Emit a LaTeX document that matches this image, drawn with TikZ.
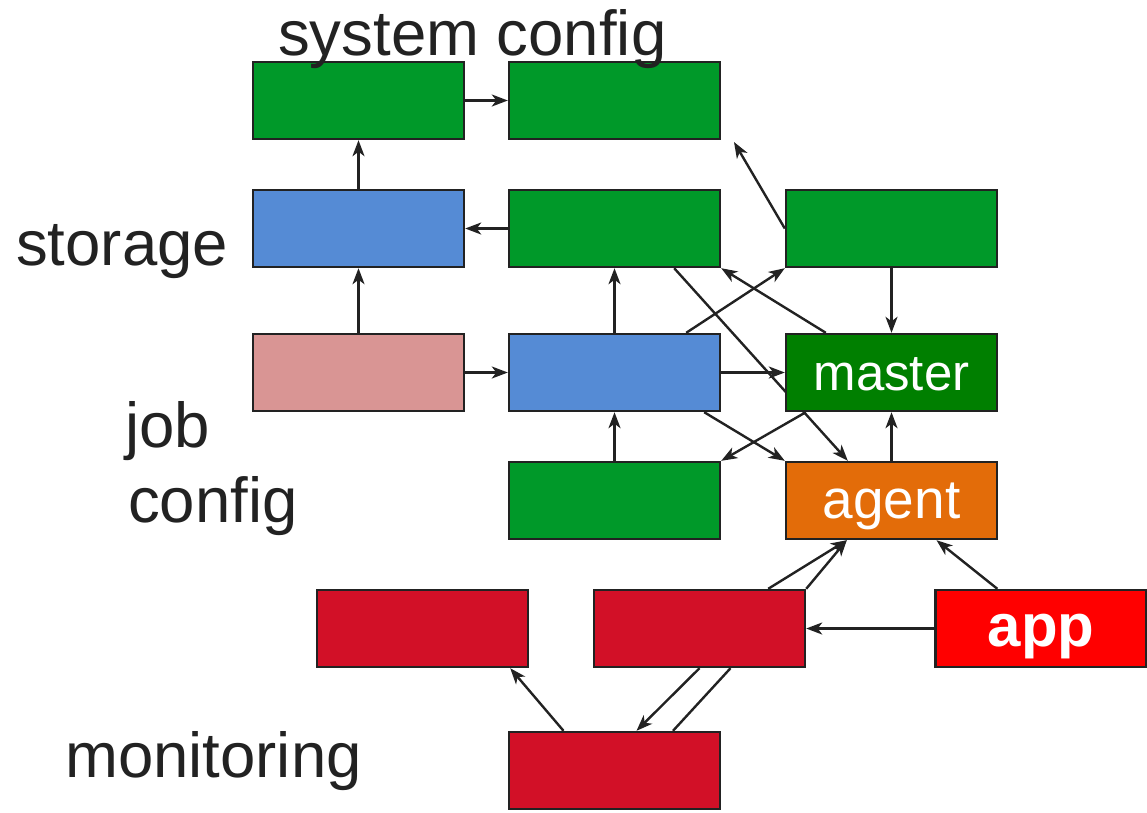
\documentclass[tikz,border=0pt]{standalone}
\usepackage{fontspec}
\setmainfont{Liberation Sans}
\usetikzlibrary{arrows.meta}
\pgfdeclarelayer{background}
\pgfdeclarelayer{foreground}
\pgfsetlayers{background,main,foreground}

\definecolor{inkgray}{HTML}{222222}
\definecolor{cfggreen}{HTML}{009929}
\definecolor{storeblue}{HTML}{558BD5}
\definecolor{jobpink}{HTML}{D99594}
\definecolor{mastergreen}{HTML}{007F00}
\definecolor{agentorange}{HTML}{E36C09}
\definecolor{monred}{HTML}{D21027}
\definecolor{appred}{HTML}{FF0000}

\tikzset{
  box/.style={draw=inkgray, line width=2.4pt, minimum width=211pt, minimum height=77pt,
              inner sep=0pt, text=white, text height=35pt, text depth=0pt,
              font=\fontsize{53}{60}\selectfont},
  grp/.style={anchor=base west, inner sep=0pt, text=inkgray,
              font=\fontsize{63.5}{75}\selectfont},
  link/.style={draw=inkgray, line width=2.4pt,
               -{Stealth[length=16pt,width=12pt,inset=4.5pt]}},
  plain/.style={draw=inkgray, line width=2.4pt}
}

\begin{document}
\begin{tikzpicture}[x=1pt,y=-1pt]
\useasboundingbox (0,0) rectangle (1147,812);

% boxes
\node[box, fill=cfggreen]   (sc1)    at (358.5,100.5) {};
\node[box, fill=cfggreen]   (sc2)    at (614.5,100.5) {};
\node[box, fill=storeblue]  (st1)    at (358.5,228.5) {};
\node[box, fill=cfggreen]   (g2)     at (614.5,228.5) {};
\node[box, fill=cfggreen]   (g3)     at (891.5,228.5) {};
\node[box, fill=jobpink]    (pink)   at (358.5,372.5) {};
\node[box, fill=storeblue]  (blue2)  at (614.5,372.5) {};
\node[box, fill=mastergreen, font=\fontsize{51}{58}\selectfont] (master) at (891.5,372.5) {master};
\node[box, fill=cfggreen]   (g4)     at (614.5,500.5) {};
\node[box, fill=agentorange, font=\fontsize{55}{62}\selectfont] (agent) at (891.5,500.5) {agent};
\node[box, fill=monred]     (r1)     at (422.5,628.5) {};
\node[box, fill=monred]     (r2)     at (699.5,628.5) {};
\node[box, fill=appred, font=\fontsize{60}{66}\selectfont\bfseries] (app) at (1041,628.5) {app};
\node[box, fill=monred]     (r3)     at (614.5,770.5) {};

\coordinate (sctip) at (734,142);

% group captions, set over the boxes
\begin{pgfonlayer}{foreground}
\node[grp] (lsys) at (278,55) {system config};
\node[grp] (lsto) at (16,265) {storage};
\node[grp] (ljob) at (125,447) {job};
\node[grp] (lcfg) at (128,522) {config};
\node[grp] (lmon) at (65,777) {monitoring};
\end{pgfonlayer}

% connectors, drawn beneath the boxes
\begin{pgfonlayer}{background}
\draw[link] (sc1.east) -- (sc2.west);
\draw[link] (st1.north) -- (sc1.south);
\draw[link] (g2.west) -- (st1.east);
\draw[link] (pink.north) -- (st1.south);
\draw[link] (pink.east) -- (blue2.west);
\draw[link] (blue2.north) -- (g2.south);
\draw[link] (g4.north) -- (blue2.south);
\draw[link] (g3.west) -- (sctip);
\draw[link] (g3.south) -- (master.north);
\draw[link] (blue2.east) -- (master.west);
\draw[link] ([xshift=-35pt]blue2.north east) -- (g3.south west);
\draw[link] ([xshift=41pt]master.north west) -- (g2.south east);
\draw[link] ([xshift=-47pt]g2.south east) -- ([xshift=63pt]agent.north west);
\draw[link] ([xshift=-17pt]blue2.south east) -- (agent.north west);
\draw[link] ([xshift=21pt]master.south west) -- (g4.north east);
\draw[link] (agent.north) -- (master.south);
\draw[link] ([xshift=-38pt]r2.north east) -- ([xshift=62pt]agent.south west);
\draw[link] (r2.north east) -- ([xshift=62pt]agent.south west);
\draw[link] ([xshift=63pt]app.north west) -- ([xshift=45pt]agent.south);
\draw[link] (app.west) -- (r2.east);
\draw[link] ([xshift=-51pt]r3.north) -- ([xshift=-19pt]r1.south east);
\draw[link] (r2.south) -- ([xshift=22pt]r3.north);
\draw[plain] ([xshift=58.5pt]r3.north) -- ([xshift=31pt]r2.south);
\end{pgfonlayer}
\end{tikzpicture}
\end{document}
